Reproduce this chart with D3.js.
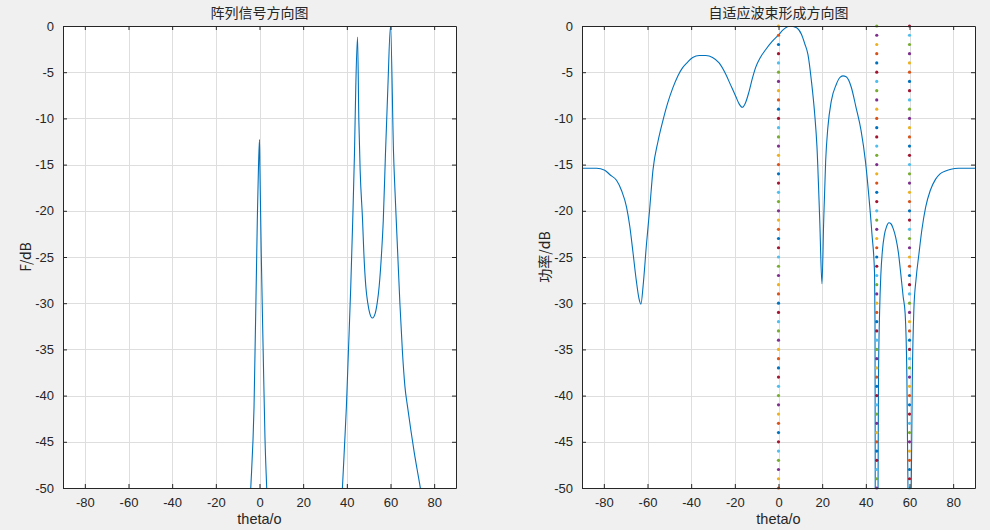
<!DOCTYPE html>
<html>
<head>
<meta charset="utf-8">
<script src="https://cdn.jsdelivr.net/npm/d3@7/dist/d3.min.js"></script>
<style>
body{margin:0;background:#f0f0f0;}
text{fill:#262626;}
</style>
</head>
<body>
<svg id="fig" width="990" height="530"></svg>
<script>
// array pattern (left)
var arrTheta = [-90,-30,-8,-4.0,-2.5,-1.0,-0.5,0,0.2,0.8,1.7,2.5,3.3,5,20,36,38.0,38.9,39.8,40.7,41.8,42.7,43.5,44.1,44.9,45.5,46.1,47.2,47.8,48.7,49.6,50.5,51.7,53.0,53.9,54.8,55.9,56.7,57.7,58.8,60.0,61.4,62.3,63.3,64.3,65.5,66.6,67.8,69.3,70.9,72.2,73.6,76,90];
var arrDb    = [-80,-75,-62,-50,-41.2,-21,-15.6,-12.3,-15.6,-24.6,-35.4,-44.5,-50,-60,-72,-58,-49.9,-45.6,-41.2,-35.4,-28.2,-21,-13.8,-6.6,-1.2,-10.2,-15.6,-21,-24.6,-28.2,-30,-31.1,-31.6,-31.1,-30,-28.2,-24.6,-21,-13.8,-6.6,0,-13.8,-19.2,-24.6,-30,-35.4,-39,-41.2,-43.7,-46.2,-48,-49.9,-54,-70];

// adaptive beam pattern (right)
var bfTheta = [-90,-83.3,-79.6,-77.2,-74.2,-71.9,-69.6,-68.1,-66.6,-65.1,-63.9,-63.0,-62.0,-60.5,-59.0,-57.5,-55.2,-53.0,-50.7,-48.4,-46.1,-43.9,-41.6,-39.3,-36.3,-33.3,-30.2,-27.2,-24.2,-21.9,-19.6,-18.1,-16.6,-15.1,-13.5,-12.0,-10.5,-8.3,-6.0,-3.0,-0.1,2.2,5.2,8.3,10.5,12.0,13.5,15.1,16.6,17.6,18.9,19.9,20.7,21.6,22.6,24.2,26.5,28,29.5,31,33.3,35.5,37.8,39.8,41.3,42.8,44.0,44.2,44.3,44.9,45.6,45.8,46.3,46.9,47.6,48.5,49.5,50.6,51.5,52.5,53.7,54.9,56.0,57.1,58.0,58.8,59.3,60.0,60.8,61.3,62.0,63.0,64.3,65.7,67.4,69.5,71.9,74,76.5,79,82.5,90];
var bfDb    = [-15.4,-15.4,-15.6,-16.1,-16.7,-17.8,-19.6,-21.7,-24.6,-27.6,-29.5,-30.1,-28.1,-23.7,-19.8,-15.6,-12.5,-10.3,-8.3,-6.7,-5.4,-4.5,-3.9,-3.4,-3.2,-3.2,-3.4,-4.0,-5.2,-6.4,-7.6,-8.4,-8.8,-8.3,-7.1,-5.7,-4.5,-3.4,-2.6,-1.7,-1.0,-0.4,0,-0.2,-0.9,-1.9,-3.1,-6.0,-9.6,-13,-21.1,-27.9,-21.1,-14.6,-11,-8.1,-6.3,-5.6,-5.4,-5.5,-6.6,-8.8,-11.3,-14.6,-18.2,-22.5,-26.8,-32,-50,-90,-50,-38,-31,-26.8,-24.3,-22.6,-21.7,-21.3,-21.4,-21.9,-22.9,-24.5,-26.8,-29.3,-31.1,-38,-50,-90,-50,-38,-30.7,-27.4,-24.7,-22,-19.6,-17.8,-16.6,-16,-15.7,-15.5,-15.4,-15.4];

// dotted marker lines
var markAngles = [0,45,60];
var markLevels = [-50,-49,-48,-47,-46,-45,-44,-43,-42,-41,-40,-39,-38,-37,-36,-35,-34,-33,-32,-31,-30,-29,-28,-27,-26,-25,-24,-23,-22,-21,-20,-19,-18,-17,-16,-15,-14,-13,-12,-11,-10,-9,-8,-7,-6,-5,-4,-3,-2,-1,0];

var xTicks = [-80,-60,-40,-20,0,20,40,60,80];
var yTicks = [0,-5,-10,-15,-20,-25,-30,-35,-40,-45,-50];
var colorOrder = ['#0072BD','#D95319','#EDB120','#7E2F8E','#77AC30','#4DBEEE','#A2142F'];

var svg = d3.select('#fig');
var plotTop = 26, plotBottom = 488;
var tickFont = '"Liberation Sans", Arial, Helvetica, sans-serif';
var cjkFont = '"Noto Sans CJK SC", "Liberation Sans", sans-serif';

function drawPanel(left, right, id, title, ylabel, thetas, dbs, marks) {
	var x = d3.scaleLinear().domain([-90,90]).range([left,right]);
	var y = d3.scaleLinear().domain([-50,0]).range([plotBottom,plotTop]);
	var g = svg.append('g');

	g.append('rect').attr('x',left).attr('y',plotTop).attr('width',right-left).attr('height',plotBottom-plotTop).attr('fill','#fff');

	// grid
	g.selectAll('.gx').data(xTicks).join('line')
		.attr('x1',d=>Math.round(x(d))+0.5).attr('x2',d=>Math.round(x(d))+0.5).attr('y1',plotTop).attr('y2',plotBottom)
		.attr('stroke','#dedede').attr('stroke-width',1);
	g.selectAll('.gy').data(yTicks).join('line')
		.attr('y1',d=>Math.round(y(d))+0.5).attr('y2',d=>Math.round(y(d))+0.5).attr('x1',left).attr('x2',right)
		.attr('stroke','#dedede').attr('stroke-width',1);

	svg.append('clipPath').attr('id',id).append('rect')
		.attr('x',left).attr('y',plotTop).attr('width',right-left).attr('height',plotBottom-plotTop);

	var pts = thetas.map((t,i)=>[t,dbs[i]]);
	var line = d3.line().curve(d3.curveMonotoneX).x(d=>x(d[0])).y(d=>y(d[1]));
	g.append('path').datum(pts).attr('d',line)
		.attr('fill','none').attr('stroke','#0072BD').attr('stroke-width',1.1)
		.attr('clip-path','url(#'+id+')');

	if (marks) {
		var k = 1;
		marks.forEach(function(a){
			markLevels.forEach(function(v){
				g.append('circle').attr('cx',x(a)).attr('cy',y(v)).attr('r',1.6)
					.attr('fill',colorOrder[k%7]);
				k++;
			});
		});
	}

	// axes (ticks inward, box)
	var fmt = d => String(d);
	var axB = d3.axisBottom(x).tickValues(xTicks).tickSizeInner(-4).tickSizeOuter(0).tickPadding(10).tickFormat(fmt);
	var axT = d3.axisTop(x).tickValues(xTicks).tickSizeInner(-4).tickSizeOuter(0).tickFormat('');
	var axL = d3.axisLeft(y).tickValues(yTicks).tickSizeInner(-4).tickSizeOuter(0).tickPadding(9).tickFormat(fmt);
	var axR = d3.axisRight(y).tickValues(yTicks).tickSizeInner(-4).tickSizeOuter(0).tickFormat('');
	[[axB,'translate(0,'+plotBottom+')'],[axT,'translate(0,'+plotTop+')'],[axL,'translate('+left+',0)'],[axR,'translate('+right+',0)']]
	.forEach(function(p){
		var a = g.append('g').attr('transform',p[1]).call(p[0]);
		a.selectAll('path,line').attr('stroke','#262626');
		a.select('.domain').attr('stroke-width',1);
		a.selectAll('text').attr('fill','#262626').style('font-family',tickFont).style('font-size','13px');
	});

	g.append('text').attr('x',(left+right)/2).attr('y',18).attr('text-anchor','middle')
		.style('font-family',cjkFont).style('font-size','14px').text(title);
	g.append('text').attr('x',(left+right)/2).attr('y',524).attr('text-anchor','middle')
		.style('font-family',tickFont).style('font-size','14.5px').text('theta/o');
	g.append('text').attr('transform','translate('+(left-32)+','+((plotTop+plotBottom)/2)+') rotate(-90)')
		.attr('text-anchor','middle').style('font-family',cjkFont).style('font-size','14px').text(ylabel);
}

drawPanel(63, 456, 'clipA', '阵列信号方向图', 'F/dB', arrTheta, arrDb, null);
drawPanel(582, 975, 'clipB', '自适应波束形成方向图', '功率/dB', bfTheta, bfDb, markAngles);
</script>
</body>
</html>
